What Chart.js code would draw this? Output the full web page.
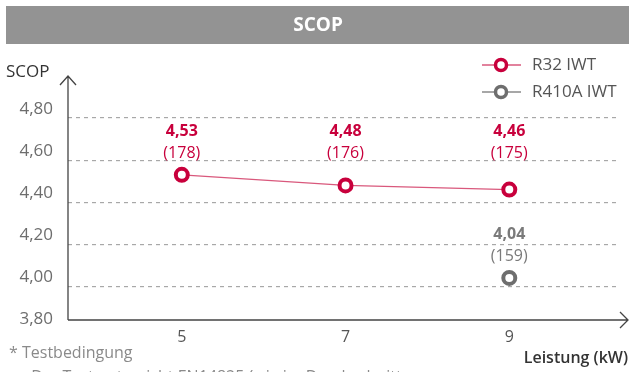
<!DOCTYPE html>
<html>
<head>
<meta charset="utf-8">
<script src="https://cdn.jsdelivr.net/npm/chart.js@4/dist/chart.umd.min.js"></script>
<style>
  html, body { margin: 0; padding: 0; background: #fff; }
  #wrap { width: 629px; height: 372px; position: relative; }
</style>
</head>
<body>
<div id="wrap"><canvas id="c" width="629" height="372"></canvas></div>
<script>
// Capacity steps (kW) and seasonal COP per refrigerant
const capacities = [5, 7, 9];
const r32Scop = [4.53, 4.48, 4.46];
const r32Eta = [178, 176, 175];
const r410aCapacities = [9];
const r410aScop = [4.04];
const r410aEta = [159];
const yTickValues = [3.8, 4.0, 4.2, 4.4, 4.6, 4.8];
const xTickValues = [5, 7, 9];
const seriesNames = ['R32 IWT', 'R410A IWT'];

const RED = '#c8003c';
const RED_LINE = '#d9587c';
const GREY = '#7a7a7a';
const FONT = "'Open Sans', 'Noto Sans', sans-serif";
const AXIS_END_X = 628;

const fmt = v => v.toFixed(2).replace('.', ',');

const decor = {
  id: 'decor',
  beforeDraw(chart) {
    const ctx = chart.ctx;
    ctx.save();
    ctx.fillStyle = '#ffffff';
    ctx.fillRect(0, 0, chart.width, chart.height);
    // heading bar
    ctx.fillStyle = '#939393';
    ctx.fillRect(6, 6, chart.width - 6, 38);
    ctx.fillStyle = '#ffffff';
    ctx.font = `bold 19px ${FONT}`;
    ctx.textAlign = 'center';
    ctx.textBaseline = 'middle';
    ctx.fillText('SCOP', 318, 26);
    ctx.restore();
  },
  afterDraw(chart) {
    const ctx = chart.ctx;
    const a = chart.chartArea;
    ctx.save();
    // axes with arrow heads
    ctx.strokeStyle = '#444';
    ctx.lineWidth = 1.3;
    ctx.beginPath();
    ctx.moveTo(a.left, a.bottom);
    ctx.lineTo(a.left, a.top);
    ctx.moveTo(a.left - 8, a.top + 9);
    ctx.lineTo(a.left, a.top);
    ctx.lineTo(a.left + 8, a.top + 9);
    ctx.moveTo(a.left, a.bottom);
    ctx.lineTo(AXIS_END_X, a.bottom);
    ctx.moveTo(AXIS_END_X - 8, a.bottom - 8);
    ctx.lineTo(AXIS_END_X, a.bottom);
    ctx.lineTo(AXIS_END_X - 8, a.bottom + 8);
    ctx.stroke();

    // axis titles
    ctx.fillStyle = '#333';
    ctx.font = `17px ${FONT}`;
    ctx.textAlign = 'left';
    ctx.textBaseline = 'middle';
    ctx.fillText('SCOP', 6, 72);
    ctx.font = `600 16px ${FONT}`;
    ctx.textAlign = 'right';
    ctx.fillText('Leistung (kW)', 628, 358);

    // footnote
    ctx.fillStyle = '#8a8a8a';
    ctx.font = `16px ${FONT}`;
    ctx.textAlign = 'left';
    ctx.fillText('* Testbedingung', 9, 353);
    ctx.fillText('- Der Test entspricht EN14825 (wie im Durchschnitt', 22, 377);

    // legend
    const rows = [
      { name: seriesNames[0], line: RED_LINE, mark: RED, y: 65 },
      { name: seriesNames[1], line: '#8a8a8a', mark: '#6e6e6e', y: 92 }
    ];
    rows.forEach(r => {
      ctx.strokeStyle = r.line;
      ctx.lineWidth = 1.3;
      ctx.beginPath();
      ctx.moveTo(482, r.y);
      ctx.lineTo(521, r.y);
      ctx.stroke();
      ctx.beginPath();
      ctx.arc(501, r.y, 5.5, 0, Math.PI * 2);
      ctx.fillStyle = '#fff';
      ctx.fill();
      ctx.lineWidth = 3.5;
      ctx.strokeStyle = r.mark;
      ctx.stroke();
      ctx.fillStyle = '#555';
      ctx.font = `17px ${FONT}`;
      ctx.textAlign = 'left';
      ctx.textBaseline = 'middle';
      ctx.fillText(r.name, 532, r.y);
    });
    ctx.restore();
  },
  afterDatasetsDraw(chart) {
    const ctx = chart.ctx;
    const xs = chart.scales.x, ys = chart.scales.y;
    const groups = [
      { xv: capacities, yv: r32Scop, eta: r32Eta, color: RED },
      { xv: r410aCapacities, yv: r410aScop, eta: r410aEta, color: GREY }
    ];
    ctx.save();
    ctx.textAlign = 'center';
    ctx.textBaseline = 'middle';
    groups.forEach(g => {
      const base = ys.getPixelForValue(Math.max(...g.yv));
      g.xv.forEach((xv, i) => {
        const px = xs.getPixelForValue(xv);
        ctx.fillStyle = g.color;
        ctx.font = `bold 16px ${FONT}`;
        ctx.fillText(fmt(g.yv[i]), px, base - 43);
        ctx.font = `16px ${FONT}`;
        ctx.fillText('(' + g.eta[i] + ')', px, base - 21);
      });
    });
    ctx.restore();
  }
};

new Chart(document.getElementById('c'), {
  type: 'line',
  data: {
    datasets: [
      {
        label: seriesNames[0],
        data: capacities.map((x, i) => ({ x, y: r32Scop[i] })),
        borderColor: RED_LINE,
        borderWidth: 1.3,
        pointBackgroundColor: '#fff',
        pointBorderColor: RED,
        pointBorderWidth: 4,
        pointRadius: 6,
        tension: 0
      },
      {
        label: seriesNames[1],
        data: r410aCapacities.map((x, i) => ({ x, y: r410aScop[i] })),
        borderColor: GREY,
        borderWidth: 1.3,
        pointBackgroundColor: '#fff',
        pointBorderColor: '#6e6e6e',
        pointBorderWidth: 4,
        pointRadius: 6
      }
    ]
  },
  options: {
    responsive: false,
    animation: false,
    devicePixelRatio: 1,
    layout: { padding: { top: 76, right: 1, left: 0, bottom: 0 } },
    plugins: { legend: { display: false }, tooltip: { enabled: false } },
    scales: {
      x: {
        type: 'linear',
        min: 3.61,
        max: 10.34,
        afterBuildTicks: s => { s.ticks = xTickValues.map(v => ({ value: v })); },
        afterFit: s => { s.height = 52; },
        grid: { display: false, drawTicks: false },
        border: { display: false },
        ticks: { color: '#555', padding: 8, font: { family: FONT, size: 16 }, callback: v => String(v) }
      },
      y: {
        min: 3.84,
        max: 5.0,
        afterBuildTicks: s => { s.ticks = yTickValues.map(v => ({ value: v })); },
        afterFit: s => { s.width = 68; },
        grid: {
          drawTicks: false,
          color: c => (c.tick && c.tick.value < 3.9) ? 'rgba(0,0,0,0)' : '#a8a8a8',
          lineWidth: 1.2
        },
        border: { display: false, dash: [4, 4] },
        ticks: {
          color: '#6d6d6d',
          padding: 15,
          labelOffset: -9,
          font: { family: FONT, size: 17 },
          callback: v => fmt(v)
        }
      }
    }
  },
  plugins: [decor]
});
</script>
</body>
</html>
